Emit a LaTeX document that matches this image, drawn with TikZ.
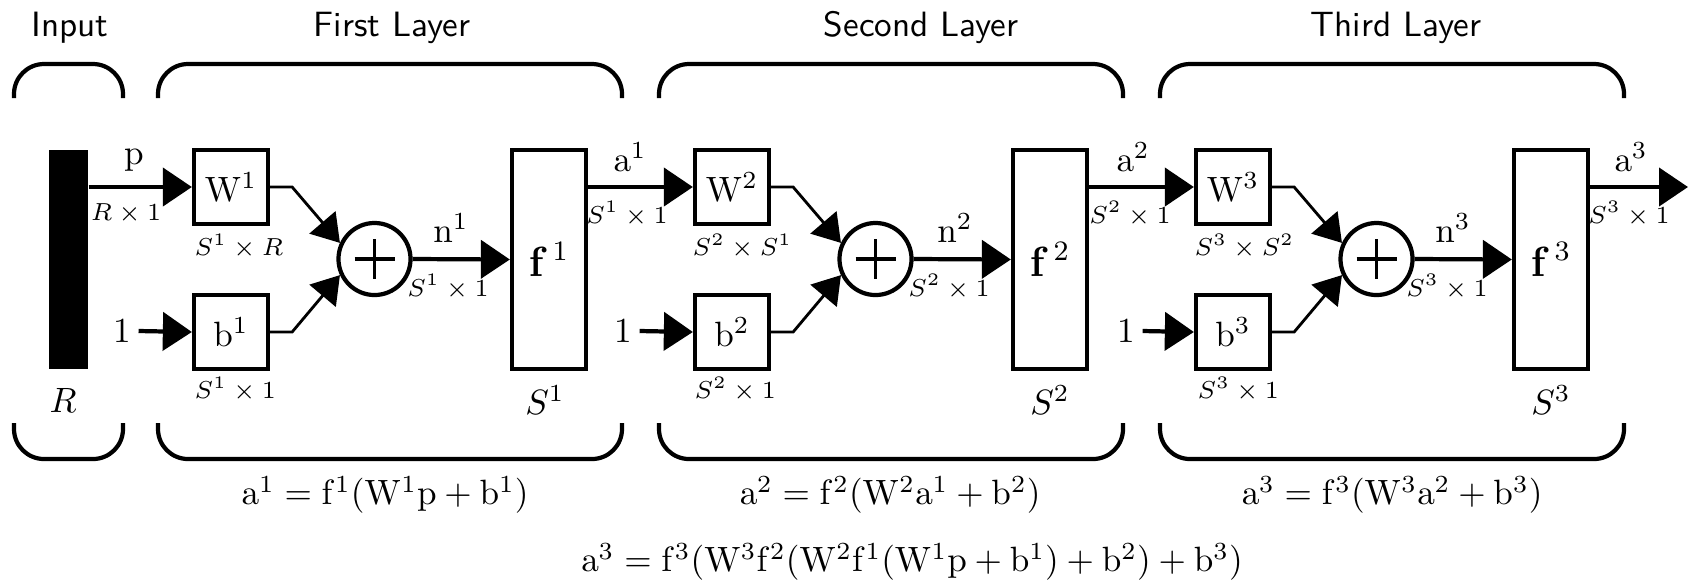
\documentclass[tikz,border=0pt]{standalone}
\usepackage{amsmath}
\usepackage{amssymb}
\usepackage{tikz}
\usetikzlibrary{arrows.meta}

\tikzset{
  blk/.style={draw, line width=1.2pt, minimum width=0.74cm, minimum height=0.74cm, inner sep=0pt},
  tallblk/.style={blk, minimum height=2.19cm},
  sumnode/.style={draw, circle, line width=1.2pt, minimum size=0.72cm, inner sep=0pt},
  dimlbl/.style={font=\scriptsize, inner sep=0pt},
  bigarrow/.style={-{Triangle[length=0.29cm,width=0.38cm]}, line width=1.2pt},
  feedarrow/.style={-{Triangle[length=0.27cm,width=0.34cm]}, line width=0.8pt},
  brace/.style={line width=1.2pt, rounded corners=0.3cm},
  title/.style={font=\sffamily}
}

\begin{document}
\begin{tikzpicture}[x=0.01cm, y=-0.01cm]
  \useasboundingbox (0,0) rectangle (1688,584);
  \node[title] (tinput) at (70,28) {Input};
  \node[title] (tfirst) at (392,28) {First Layer};
  \node[title] (tsecond) at (921,28) {Second Layer};
  \node[title] (tthird) at (1396,28) {Third Layer};
  \draw[brace] (14,98) -- (14,64) -- (123,64) -- (123,98);
  \draw[brace] (14,423) -- (14,459) -- (123,459) -- (123,423);
  \draw[brace] (158,98) -- (158,64) -- (622,64) -- (622,98);
  \draw[brace] (158,423) -- (158,459) -- (622,459) -- (622,423);
  \draw[brace] (659,98) -- (659,64) -- (1123,64) -- (1123,98);
  \draw[brace] (659,423) -- (659,459) -- (1123,459) -- (1123,423);
  \draw[brace] (1160,98) -- (1160,64) -- (1624,64) -- (1624,98);
  \draw[brace] (1160,423) -- (1160,459) -- (1624,459) -- (1624,423);
  \node[fill, minimum width=0.39cm, minimum height=2.19cm, inner sep=0pt] (bar) at (68.5,259.5) {};
  \node (rlbl) at (63,400) {$R$};
  \node[blk] (W1) at (231,187) {$\mathrm{W}^1$};
  \node[blk] (b1) at (231,332) {$\mathrm{b}^1$};
  \node[sumnode] (s1) at (374.5,259) {};
  \node[tallblk] (f1) at (549,259.5) {\large$\mathbf{f}^{\,1}$};
  \node[blk] (W2) at (732,187) {$\mathrm{W}^2$};
  \node[blk] (b2) at (732,332) {$\mathrm{b}^2$};
  \node[sumnode] (s2) at (875.5,259) {};
  \node[tallblk] (f2) at (1050,259.5) {\large$\mathbf{f}^{\,2}$};
  \node[blk] (W3) at (1233,187) {$\mathrm{W}^3$};
  \node[blk] (b3) at (1233,332) {$\mathrm{b}^3$};
  \node[sumnode] (s3) at (1376.5,259) {};
  \node[tallblk] (f3) at (1551,259.5) {\large$\mathbf{f}^{\,3}$};
  \coordinate (out) at (1688,187);
  \draw[line width=1pt] (s1.center) ++(-20,0) -- ++(40,0) (s1.center) ++(0,-20) -- ++(0,40);
  \draw[line width=1pt] (s2.center) ++(-20,0) -- ++(40,0) (s2.center) ++(0,-20) -- ++(0,40);
  \draw[line width=1pt] (s3.center) ++(-20,0) -- ++(40,0) (s3.center) ++(0,-20) -- ++(0,40);
  \node[inner xsep=2pt] (one1) at (122,331) {$1$};
  \node[inner xsep=2pt] (one2) at (623,331) {$1$};
  \node[inner xsep=2pt] (one3) at (1126,331) {$1$};
  \node (plbl) at (134,160) {$\mathrm{p}$};
  \node (a1lbl) at (630,157) {$\mathrm{a}^1$};
  \node (a2lbl) at (1133,157) {$\mathrm{a}^2$};
  \node (a3lbl) at (1631,157) {$\mathrm{a}^3$};
  \node[dimlbl] (pdim) at (126,214) {$R\times1$};
  \node[dimlbl] (a1dim) at (627,214) {$S^1\times1$};
  \node[dimlbl] (a2dim) at (1130,214) {$S^2\times1$};
  \node[dimlbl] (a3dim) at (1629,214) {$S^3\times1$};
  \node[dimlbl, anchor=north west] (W1dim) at (194,233) {$S^1\times R$};
  \node[dimlbl, anchor=north west] (W2dim) at (692,233) {$S^2\times S^1$};
  \node[dimlbl, anchor=north west] (W3dim) at (1194,233) {$S^3\times S^2$};
  \node[dimlbl, anchor=north west] (b1dim) at (194,376) {$S^1\times1$};
  \node[dimlbl, anchor=north west] (b2dim) at (694,376) {$S^2\times1$};
  \node[dimlbl, anchor=north west] (b3dim) at (1197,376) {$S^3\times1$};
  \node (n1lbl) at (451,228) {$\mathrm{n}^1$};
  \node (n2lbl) at (955,228) {$\mathrm{n}^2$};
  \node (n3lbl) at (1453,228) {$\mathrm{n}^3$};
  \node[dimlbl] (n1dim) at (448,287) {$S^1\times1$};
  \node[dimlbl] (n2dim) at (949,287) {$S^2\times1$};
  \node[dimlbl] (n3dim) at (1447,287) {$S^3\times1$};
  \node (S1lbl) at (545,400) {$S^1$};
  \node (S2lbl) at (1050,400) {$S^2$};
  \node (S3lbl) at (1551,400) {$S^3$};
  \draw[bigarrow] (bar.east |- W1.west) -- (W1.west);
  \draw[bigarrow] (one1.east) -- (b1.west);
  \draw[feedarrow] (W1.east) -- ++(22,0) -- (s1.155);
  \draw[feedarrow] (b1.east) -- ++(22,0) -- (s1.205);
  \draw[bigarrow] (s1.east) -- (f1.west);
  \draw[bigarrow] (f1.east |- W2.west) -- (W2.west);
  \draw[bigarrow] (one2.east) -- (b2.west);
  \draw[feedarrow] (W2.east) -- ++(22,0) -- (s2.155);
  \draw[feedarrow] (b2.east) -- ++(22,0) -- (s2.205);
  \draw[bigarrow] (s2.east) -- (f2.west);
  \draw[bigarrow] (f2.east |- W3.west) -- (W3.west);
  \draw[bigarrow] (one3.east) -- (b3.west);
  \draw[feedarrow] (W3.east) -- ++(22,0) -- (s3.155);
  \draw[feedarrow] (b3.east) -- ++(22,0) -- (s3.205);
  \draw[bigarrow] (s3.east) -- (f3.west);
  \draw[bigarrow] (f3.east |- out) -- (out);
  \node (eq1) at (385,495) {$\mathrm{a^1 = f^1(W^1p + b^1)}$};
  \node (eq2) at (890,495) {$\mathrm{a^2 = f^2(W^2a^1 + b^2)}$};
  \node (eq3) at (1392,495) {$\mathrm{a^3 = f^3(W^3a^2 + b^3)}$};
  \node (eqall) at (912,562) {$\mathrm{a^3 = f^3(W^3f^2(W^2f^1(W^1p + b^1) + b^2) + b^3)}$};
\end{tikzpicture}
\end{document}
